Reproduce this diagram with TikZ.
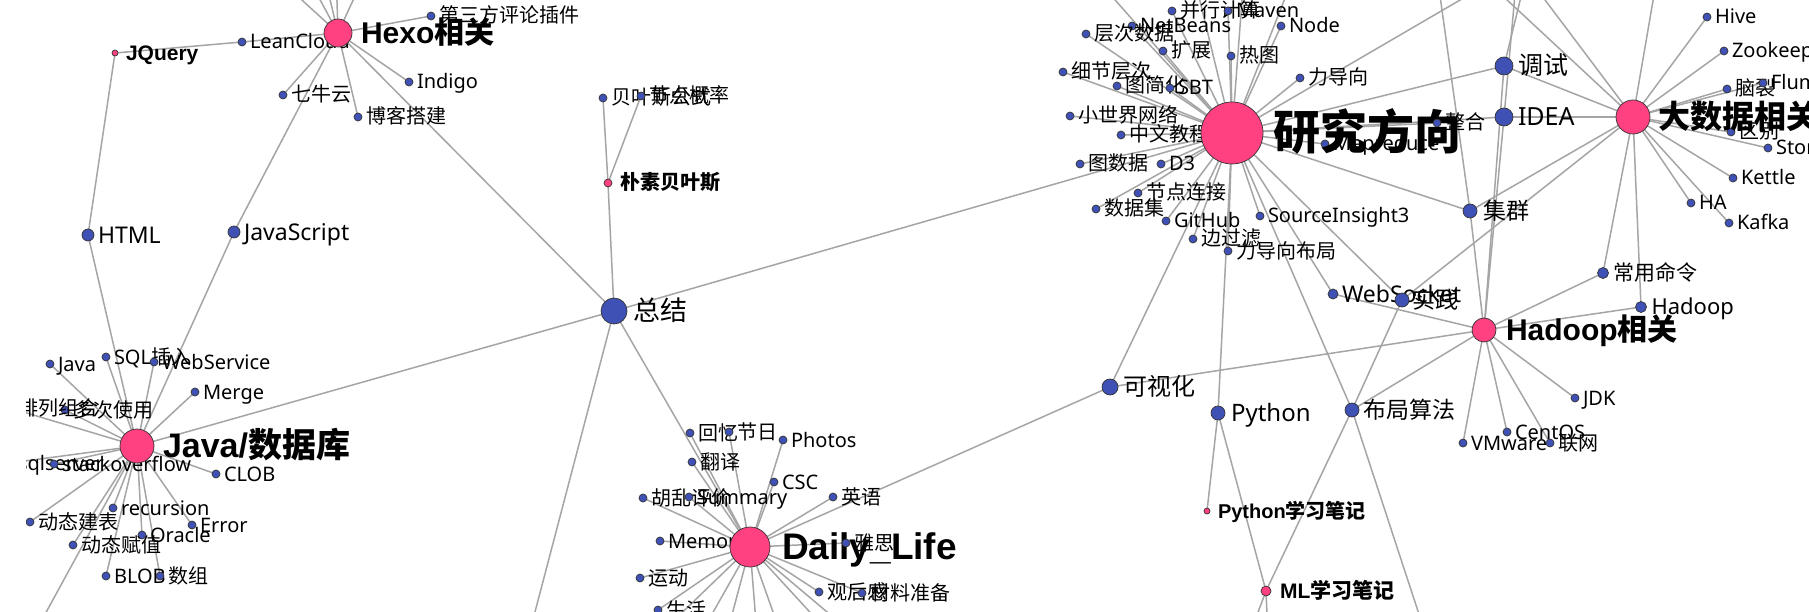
\documentclass[tikz,border=0pt]{standalone}
\usepackage{fontspec}
\setmainfont{Noto Sans CJK SC}
\newfontfamily\latf{Noto Sans}
\newfontfamily\latb{Liberation Sans}
\pgfdeclarelayer{bg}
\pgfsetlayers{bg,main}
\definecolor{tagblue}{RGB}{63,81,181}
\definecolor{catpink}{RGB}{255,64,129}
\definecolor{edgegray}{RGB}{165,165,165}
\tikzset{
  lnk/.style={draw=edgegray, line width=1.5},
  tagc/.style={circle, fill=tagblue, draw=black!80, line width=0.7, inner sep=0, outer sep=0},
  catc/.style={circle, fill=catpink, draw=black!80, line width=0.7, inner sep=0, outer sep=0},
  lbl/.style={inner sep=0, outer sep=0, anchor=base west, text=black},
}
% name, x, y, radius, font size, gap, label
\newcommand\tn[7]{%
  \node[tagc, minimum size=2*#4] (#1) at (#2,#3) {};
  \node[lbl, font=\fontsize{#5}{#5}\selectfont] (#1-t) at ([xshift=#6, yshift=-0.35*#5]#1.east) {#7};}
\newcommand\cn[7]{%
  \node[catc, minimum size=2*#4] (#1) at (#2,#3) {};
  \node[lbl, font=\fontsize{#5}{#5}\selectfont\bfseries] (#1-t) at ([xshift=#6, yshift=-0.35*#5]#1.east) {#7};}
\begin{document}
\begin{tikzpicture}[x=1pt, y=-1pt]
\useasboundingbox (0,0) rectangle (1809,612);
\begin{scope}
\clip (26,0) rectangle (1809,612);
% ---------- Hexo ----------
\tn{leancloud}{242}{42}{4}{20}{4}{\latf LeanCloud}
\tn{qiniu}{283}{95}{4}{20}{4}{七牛云}
\tn{blog}{358}{117}{4}{20}{4}{博客搭建}
\tn{indigo}{409}{82}{4}{20}{4}{\latf Indigo}
\tn{comment}{431}{16}{4}{20}{4}{第三方评论插件}
\tn{html}{88}{235}{6}{23}{4}{\latf HTML}
\tn{js}{234}{232}{6}{23}{4}{\latf JavaScript}
\cn{jquery}{115}{53}{3}{21}{8}{\latb JQuery}
\cn{hexo}{338}{33}{14}{30}{9}{{\latb Hexo}相关}
% ---------- Java ----------
\tn{java}{50}{364}{4}{20}{4}{\latf Java}
\tn{sqlins}{106}{357}{4}{20}{4}{{\latf SQL}插入}
\tn{websvc}{154}{362}{4}{20}{4}{\latf WebService}
\tn{merge}{195}{392}{4}{20}{4}{\latf Merge}
\tn{duoci}{65}{410}{4}{20}{4}{多次使用}
\tn{pailie}{10}{408}{4}{20}{4}{排列组合}
\tn{sqlsrv}{10}{463}{4}{20}{4}{\latf sqlserver}
\tn{stack}{54}{464}{4}{20}{4}{\latf stackoverflow}
\tn{clob}{216}{474}{4}{20}{4}{\latf CLOB}
\tn{recur}{113}{508}{4}{20}{4}{\latf recursion}
\tn{dtjb}{30}{522}{4}{20}{4}{动态建表}
\tn{error}{192}{525}{4}{20}{4}{\latf Error}
\tn{oracle}{142}{535}{4}{20}{4}{\latf Oracle}
\tn{dtfz}{73}{545}{4}{20}{4}{动态赋值}
\tn{blob}{106}{576}{4}{20}{4}{\latf BLOB}
\tn{shuzu}{160}{576}{4}{20}{4}{数组}
\cn{javadb}{137}{446}{17}{34}{9}{{\latb Java/}数据库}
% ---------- Summary ----------
\tn{zongjie}{614}{311}{13}{27}{6}{总结}
\tn{bysa}{603}{98}{4}{20}{4}{贝叶斯公式}
\tn{bysb}{641}{96}{4}{20}{4}{节点概率}
\cn{pusu}{608}{183}{4}{20}{8}{朴素贝叶斯}
% ---------- Daily ----------
\tn{huiyi}{690}{433}{4}{20}{4}{回忆}
\tn{jieri}{729}{432}{4}{20}{4}{节日}
\tn{photos}{783}{440}{4}{20}{4}{\latf Photos}
\tn{fanyi}{692}{462}{4}{20}{4}{翻译}
\tn{csc}{774}{482}{4}{20}{4}{\latf CSC}
\tn{english}{833}{497}{4}{20}{4}{英语}
\tn{huluan}{643}{498}{4}{20}{4}{胡乱评价}
\tn{summary}{689}{497}{4}{20}{4}{\latf Summary}
\tn{memory}{660}{541}{4}{20}{4}{\latf Memory}
\tn{yundong}{640}{578}{4}{20}{4}{运动}
\tn{guanhou}{819}{592}{4}{20}{4}{观后感}
\tn{cailiao}{862}{593}{4}{20}{4}{材料准备}
\tn{shenghuo}{658}{610}{4}{20}{4}{生活}
\cn{daily}{750}{547}{20}{37}{12}{{\latb Daily\_Life}}
\tn{yasi}{846}{543}{4}{20}{4}{雅思}
% ---------- Research ----------
\tn{bxjs}{1172}{11}{4}{20}{4}{并行计算}
\tn{maven}{1228}{11}{4}{20}{4}{\latf Maven}
\tn{netbeans}{1132}{26}{4}{20}{4}{\latf NetBeans}
\tn{nodejs}{1281}{26}{4}{20}{4}{\latf Node}
\tn{ccsj}{1086}{34}{4}{20}{4}{层次数据}
\tn{kuozhan}{1163}{51}{4}{20}{4}{扩展}
\tn{retu}{1231}{56}{4}{20}{4}{热图}
\tn{xjcc}{1063}{72}{4}{20}{4}{细节层次}
\tn{ldx}{1300}{78}{4}{20}{4}{力导向}
\tn{tjh}{1117}{86}{4}{20}{4}{图简化}
\tn{sbt}{1170}{88}{4}{20}{4}{\latf SBT}
\tn{xsjwl}{1070}{116}{4}{20}{4}{小世界网络}
\tn{zwjc}{1121}{135}{4}{20}{4}{中文教程}
\tn{tsj}{1080}{164}{4}{20}{4}{图数据}
\tn{dthree}{1161}{164}{4}{20}{4}{\latf D3}
\tn{jdlj}{1138}{193}{4}{20}{4}{节点连接}
\tn{sjj}{1096}{209}{4}{20}{4}{数据集}
\tn{github}{1166}{221}{4}{20}{4}{\latf GitHub}
\tn{sis}{1260}{216}{4}{20}{4}{\latf SourceInsight3}
\tn{bgl}{1193}{239}{4}{20}{4}{边过滤}
\tn{ldxbj}{1228}{251}{4}{20}{4}{力导向布局}
\tn{mapred}{1325}{144}{4}{20}{4}{\latf Mapreduce}
\tn{websocket}{1333}{294}{5}{23}{4}{\latf WebSocket}
\tn{keshihua}{1110}{387}{8}{24}{5}{可视化}
\tn{python}{1218}{413}{7}{24}{6}{\latf Python}
\tn{buju}{1352}{410}{7}{23}{4}{布局算法}
\cn{research}{1232}{133}{31}{47}{10}{研究方向}
\tn{zhenghe}{1437}{123}{4}{20}{4}{整合}
\tn{tiaoshi}{1504}{66}{9}{25}{5}{调试}
\tn{idea}{1504}{117}{9}{25}{5}{\latf IDEA}
\tn{jiqun}{1470}{211}{7}{23}{6}{集群}
\tn{shijian}{1402}{300}{7}{23}{3}{实践}
% ---------- Big data ----------
\tn{hive}{1707}{17}{4}{20}{4}{\latf Hive}
\tn{zk}{1724}{51}{4}{20}{4}{\latf Zookeeper}
\tn{naolie}{1727}{89}{4}{20}{4}{脑裂}
\tn{flume}{1763}{83}{4}{20}{4}{\latf Flume}
\tn{qubie}{1731}{132}{4}{20}{4}{区别}
\tn{storm}{1768}{148}{4}{20}{4}{\latf Storm}
\tn{kettle}{1733}{178}{4}{20}{4}{\latf Kettle}
\tn{ha}{1691}{203}{4}{20}{4}{\latf HA}
\tn{kafka}{1729}{223}{4}{20}{4}{\latf Kafka}
\tn{cymd}{1603}{273}{5.5}{21}{5}{常用命令}
\tn{hadoop}{1641}{307}{5.5}{22}{5}{\latf Hadoop}
\cn{bigdata}{1633}{117}{17}{32}{8}{大数据相关}
% ---------- Hadoop ----------
\tn{jdk}{1575}{398}{4}{20}{4}{\latf JDK}
\tn{vmware}{1463}{443}{4}{20}{4}{\latf VMware}
\tn{centos}{1507}{432}{4}{20}{4}{\latf CentOS}
\tn{lianwang}{1550}{443}{4}{20}{4}{联网}
\cn{hadoopcat}{1484}{330}{12}{30}{10}{{\latb Hadoop}相关}
\cn{pynote}{1207}{511}{3}{20}{8}{{\latb Python}学习笔记}
\cn{mlnote}{1266}{591}{5}{21}{9}{{\latb ML}学习笔记}
% ---------- off-canvas ends ----------
\coordinate (hxa) at (269,-30);
\coordinate (hxb) at (304,-30);
\coordinate (hxc) at (323,-30);
\coordinate (hxd) at (336,-30);
\coordinate (hxe) at (367,-30);
\coordinate (jxa) at (20,660);
\coordinate (zja) at (525,650);
\coordinate (dla) at (633,660);
\coordinate (dlb) at (686,660);
\coordinate (dlc) at (720,660);
\coordinate (dld) at (759,660);
\coordinate (dle) at (790,660);
\coordinate (dlf) at (854,660);
\coordinate (dlg) at (884,660);
\coordinate (rsa) at (1080,-40);
\coordinate (rsb) at (1190,-40);
\coordinate (rsc) at (1245,-40);
\coordinate (rsd) at (1300,-40);
\coordinate (rse) at (1503,-25);
\coordinate (jqa) at (1435,-40);
\coordinate (ida) at (1518,-40);
\coordinate (tsa) at (1530,-40);
\coordinate (bda) at (1660,-40);
\coordinate (bdb) at (1464,-40);
\coordinate (bdc) at (1515,-40);
\coordinate (mla) at (1240,660);
\coordinate (mlb) at (1269,660);
\coordinate (bja) at (1434,660);
\end{scope}
\begin{pgfonlayer}{bg}
\fill[white] (0,0) rectangle (1809,612);
\begin{scope}
\clip (26,0) rectangle (1809,612);
\foreach \a/\b in {hexo/leancloud, hexo/qiniu, hexo/blog, hexo/indigo, hexo/comment, hexo/zongjie, hexo/js,
  hexo/hxa, hexo/hxb, hexo/hxc, hexo/hxd, hexo/hxe, leancloud/jquery, jquery/html, html/javadb, js/javadb,
  javadb/java, javadb/sqlins, javadb/websvc, javadb/merge, javadb/duoci, javadb/pailie, javadb/sqlsrv,
  javadb/stack, javadb/clob, javadb/recur, javadb/dtjb, javadb/error, javadb/oracle, javadb/dtfz,
  javadb/blob, javadb/shuzu, javadb/zongjie, javadb/jxa,
  zongjie/pusu, zongjie/research, zongjie/daily, zongjie/zja, pusu/bysa, pusu/bysb,
  daily/huiyi, daily/jieri, daily/photos, daily/fanyi, daily/csc, daily/english, daily/huluan,
  daily/summary, daily/memory, daily/yasi, daily/yundong, daily/guanhou, daily/cailiao, daily/shenghuo,
  daily/keshihua, daily/dla, daily/dlb, daily/dlc, daily/dld, daily/dle, daily/dlf, daily/dlg,
  research/bxjs, research/maven, research/netbeans, research/nodejs, research/ccsj, research/kuozhan,
  research/retu, research/xjcc, research/ldx, research/tjh, research/sbt, research/xsjwl, research/zwjc,
  research/tsj, research/dthree, research/jdlj, research/sjj, research/github, research/sis, research/bgl,
  research/ldxbj, research/mapred, research/zhenghe, research/websocket, research/tiaoshi, research/idea,
  research/jiqun, research/shijian, research/keshihua, research/python, research/buju,
  research/rsa, research/rsb, research/rsc, research/rsd, research/rse,
  bigdata/hive, bigdata/zk, bigdata/naolie, bigdata/flume, bigdata/qubie, bigdata/storm, bigdata/kettle,
  bigdata/ha, bigdata/kafka, bigdata/cymd, bigdata/hadoop, bigdata/tiaoshi, bigdata/idea, bigdata/jiqun,
  bigdata/shijian, bigdata/bda, bigdata/bdb, bigdata/bdc,
  hadoopcat/cymd, hadoopcat/hadoop, hadoopcat/jdk, hadoopcat/vmware, hadoopcat/centos, hadoopcat/lianwang,
  hadoopcat/keshihua, hadoopcat/buju, hadoopcat/websocket, hadoopcat/jiqun, hadoopcat/idea, hadoopcat/tiaoshi,
  jiqun/jqa, idea/ida, tiaoshi/tsa, shijian/buju,
  python/pynote, python/mlnote, buju/mlnote, buju/bja, mlnote/mla, mlnote/mlb}
  \draw[lnk] (\a) -- (\b);
\end{scope}
\end{pgfonlayer}
\end{tikzpicture}
\end{document}
